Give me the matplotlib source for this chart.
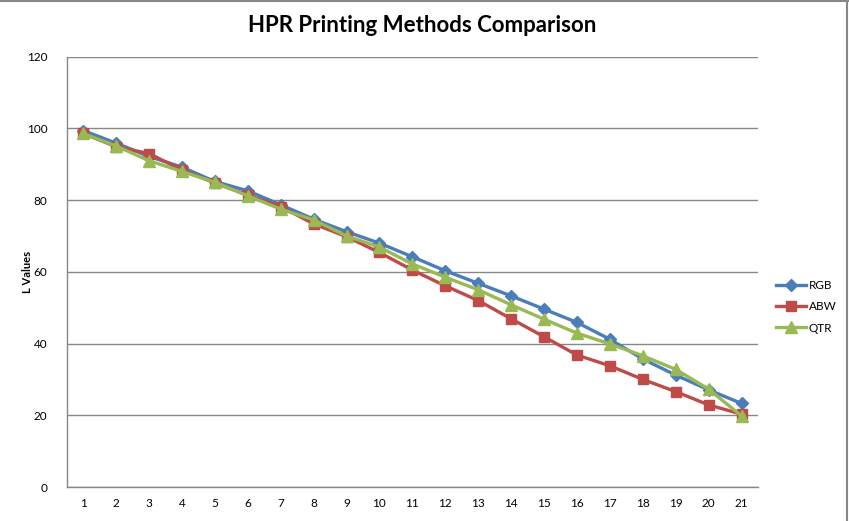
import matplotlib
matplotlib.use("Agg")
import matplotlib.pyplot as plt
from matplotlib.lines import Line2D

categories = list(range(1, 22))
rgb = [99.4, 95.9, 92.2, 89.2, 85.2, 82.6, 78.7, 74.7, 71.2, 68.0, 64.2,
       60.3, 56.8, 53.3, 49.6, 45.9, 41.2, 35.7, 31.2, 27.1, 23.3]
abw = [98.6, 94.9, 93.0, 88.4, 84.8, 81.4, 78.2, 73.4, 69.8, 65.4, 60.5,
       56.1, 52.0, 46.9, 41.9, 36.8, 33.8, 30.0, 26.6, 22.9, 20.3]
qtr = [98.6, 95.1, 91.0, 88.0, 85.0, 81.2, 77.5, 74.5, 70.0, 66.9, 62.2,
       58.5, 55.0, 50.8, 46.8, 42.9, 39.9, 36.6, 32.8, 27.3, 19.8]
series_names = ["RGB", "ABW", "QTR"]
y_ticks = [0, 20, 40, 60, 80, 100, 120]

plt.rcParams['font.family'] = ['Lato', 'DejaVu Sans']

fig = plt.figure(figsize=(8.49, 5.21), dpi=100)
ax = fig.add_axes([66.7/849, 1-487/521, (758-66.7)/849, (487-56.7)/521])

colors = ["#4A7EBB", "#BE4B48", "#98B954"]
markers = ["D", "s", "^"]
msizes = [6, 7.5, 8.5]
handles = []
for vals, name, c, m, ms in zip([rgb, abw, qtr], series_names, colors, markers, msizes):
    ln, = ax.plot(categories, vals, color=c, lw=2.4, marker=m, ms=ms,
                  markeredgecolor=c, label=name, solid_joinstyle='round')
    handles.append(ln)

ax.set_xlim(0.5, 21.5)
ax.set_ylim(0, 120)
ax.set_yticks(y_ticks)
ax.set_xticks(categories)
ax.set_xticklabels([str(c) for c in categories])
ax.grid(axis='y', color='#878787', lw=1)
ax.set_axisbelow(True)
for s in ['top', 'right']:
    ax.spines[s].set_visible(False)
for s in ['left', 'bottom']:
    ax.spines[s].set_color('#878787')
    ax.spines[s].set_linewidth(1)
ax.tick_params(axis='both', length=0, labelsize=8.5, colors='#000000')
ax.tick_params(axis='x', pad=8)
ax.tick_params(axis='y', pad=14)

ax.set_ylabel("L Values", fontsize=8, fontweight='bold')
ax.yaxis.set_label_coords(-0.049, 0.5)

fig.text(422/849, 1-26/521, "HPR Printing Methods Comparison", ha='center', va='center',
         fontsize=16, fontweight='bold')

leg = fig.legend(handles=handles, loc='center left', bbox_to_anchor=(771/849, 1-307/521),
                 frameon=False, fontsize=8.5, handlelength=2.6, labelspacing=0.85,
                 handletextpad=0.2, borderaxespad=0)

# chart border (top and right visible in reference)
fig.add_artist(Line2D([0, 1], [0.999, 0.999], transform=fig.transFigure, color='#878787', lw=1.5))
fig.add_artist(Line2D([0.998, 0.998], [0, 1], transform=fig.transFigure, color='#878787', lw=1.5))

fig.savefig("out.png", dpi=100)
